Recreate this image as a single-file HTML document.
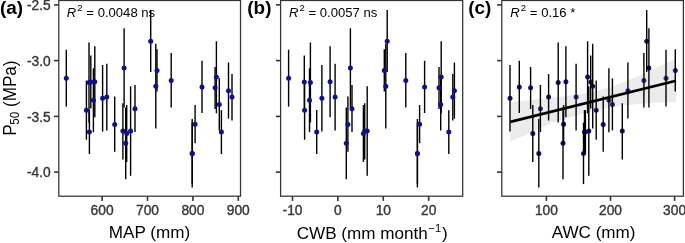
<!DOCTYPE html>
<html><head><meta charset="utf-8"><title>P50 vs climate</title>
<style>
html,body{margin:0;padding:0;background:#fff;}
svg{display:block;will-change:transform;font-family:"Liberation Sans",Arial,sans-serif;}
.tk{font-size:13.75px;fill:#383838;stroke:#383838;stroke-width:0.4px;}
.ax{font-size:17.1px;fill:#000;}
.tag{font-size:18.9px;font-weight:bold;fill:#000;}
.r2{font-size:13.1px;fill:#000;}
</style></head><body>
<svg width="685" height="243" viewBox="0 0 685 243">
<rect width="685" height="243" fill="#fff"/>
<line x1="66.3" x2="66.3" y1="49.7" y2="106.6" stroke="#000" stroke-width="1.4"/>
<line x1="86.4" x2="86.4" y1="80.6" y2="139.7" stroke="#000" stroke-width="1.4"/>
<line x1="89.0" x2="89.0" y1="42.5" y2="122.5" stroke="#000" stroke-width="1.4"/>
<line x1="89.4" x2="89.4" y1="110.1" y2="154.1" stroke="#000" stroke-width="1.4"/>
<line x1="90.8" x2="90.8" y1="55.5" y2="108.5" stroke="#000" stroke-width="1.4"/>
<line x1="93.4" x2="93.4" y1="68.3" y2="132.2" stroke="#000" stroke-width="1.4"/>
<line x1="94.8" x2="94.8" y1="46.2" y2="117.2" stroke="#000" stroke-width="1.4"/>
<line x1="102.6" x2="102.6" y1="65" y2="131.6" stroke="#000" stroke-width="1.4"/>
<line x1="106.8" x2="106.8" y1="63.8" y2="130.4" stroke="#000" stroke-width="1.4"/>
<line x1="114.7" x2="114.7" y1="96.6" y2="151.8" stroke="#000" stroke-width="1.4"/>
<line x1="124.1" x2="124.1" y1="28.3" y2="107.6" stroke="#000" stroke-width="1.4"/>
<line x1="122.9" x2="122.9" y1="103.3" y2="159.5" stroke="#000" stroke-width="1.4"/>
<line x1="126.7" x2="126.7" y1="105" y2="162" stroke="#000" stroke-width="1.4"/>
<line x1="125.7" x2="125.7" y1="107.5" y2="179.2" stroke="#000" stroke-width="1.4"/>
<line x1="130.6" x2="130.6" y1="86.3" y2="175.8" stroke="#000" stroke-width="1.4"/>
<line x1="135" x2="135" y1="85" y2="132" stroke="#000" stroke-width="1.4"/>
<line x1="150.7" x2="150.7" y1="9.9" y2="72.1" stroke="#000" stroke-width="1.4"/>
<line x1="155.8" x2="155.8" y1="43.8" y2="128.5" stroke="#000" stroke-width="1.4"/>
<line x1="157" x2="157" y1="49.2" y2="91.6" stroke="#000" stroke-width="1.4"/>
<line x1="171.2" x2="171.2" y1="53" y2="107.5" stroke="#000" stroke-width="1.4"/>
<line x1="192.2" x2="192.2" y1="119" y2="187.5" stroke="#000" stroke-width="1.4"/>
<line x1="195.1" x2="195.1" y1="105" y2="143.2" stroke="#000" stroke-width="1.4"/>
<line x1="202" x2="202" y1="60.8" y2="113.1" stroke="#000" stroke-width="1.4"/>
<line x1="215.1" x2="215.1" y1="67" y2="109" stroke="#000" stroke-width="1.4"/>
<line x1="216.4" x2="216.4" y1="41.3" y2="113.3" stroke="#000" stroke-width="1.4"/>
<line x1="219.3" x2="219.3" y1="78.3" y2="130.4" stroke="#000" stroke-width="1.4"/>
<line x1="221.4" x2="221.4" y1="110.2" y2="154.1" stroke="#000" stroke-width="1.4"/>
<line x1="228.5" x2="228.5" y1="62.5" y2="118.6" stroke="#000" stroke-width="1.4"/>
<line x1="232" x2="232" y1="74.1" y2="120.5" stroke="#000" stroke-width="1.4"/>
<line x1="192.2" x2="192.2" y1="122.7" y2="184.1" stroke="#000" stroke-width="1.4"/>
<circle cx="66.3" cy="78.3" r="2.5" fill="#10108c"/>
<circle cx="86.4" cy="110.3" r="2.5" fill="#10108c"/>
<circle cx="89.0" cy="82.5" r="2.5" fill="#10108c"/>
<circle cx="89.4" cy="132.1" r="2.5" fill="#10108c"/>
<circle cx="90.8" cy="82" r="2.5" fill="#10108c"/>
<circle cx="93.4" cy="100.3" r="2.5" fill="#10108c"/>
<circle cx="94.8" cy="81.7" r="2.5" fill="#10108c"/>
<circle cx="102.6" cy="98.3" r="2.5" fill="#10108c"/>
<circle cx="106.8" cy="97.1" r="2.5" fill="#10108c"/>
<circle cx="114.7" cy="124.5" r="2.5" fill="#10108c"/>
<circle cx="124.1" cy="68" r="2.5" fill="#10108c"/>
<circle cx="122.9" cy="131.1" r="2.5" fill="#10108c"/>
<circle cx="126.7" cy="133.6" r="2.5" fill="#10108c"/>
<circle cx="125.7" cy="143.3" r="2.5" fill="#10108c"/>
<circle cx="130.6" cy="131.1" r="2.5" fill="#10108c"/>
<circle cx="135" cy="108.8" r="2.5" fill="#10108c"/>
<circle cx="150.7" cy="41.2" r="2.5" fill="#10108c"/>
<circle cx="155.8" cy="86.3" r="2.5" fill="#10108c"/>
<circle cx="157" cy="70.4" r="2.5" fill="#10108c"/>
<circle cx="171.2" cy="80.6" r="2.5" fill="#10108c"/>
<circle cx="192.2" cy="153.6" r="2.5" fill="#10108c"/>
<circle cx="195.1" cy="124.2" r="2.5" fill="#10108c"/>
<circle cx="202" cy="87" r="2.5" fill="#10108c"/>
<circle cx="215.1" cy="87.8" r="2.5" fill="#10108c"/>
<circle cx="216.4" cy="77" r="2.5" fill="#10108c"/>
<circle cx="219.3" cy="104.4" r="2.5" fill="#10108c"/>
<circle cx="221.4" cy="132.1" r="2.5" fill="#10108c"/>
<circle cx="228.5" cy="90.8" r="2.5" fill="#10108c"/>
<circle cx="232" cy="97.1" r="2.5" fill="#10108c"/>
<circle cx="192.2" cy="153.4" r="2.5" fill="#10108c"/>
<line x1="288.6" x2="288.6" y1="49.7" y2="106.6" stroke="#000" stroke-width="1.4"/>
<line x1="304.6" x2="304.6" y1="80.6" y2="139.7" stroke="#000" stroke-width="1.4"/>
<line x1="310.4" x2="310.4" y1="42.5" y2="122.5" stroke="#000" stroke-width="1.4"/>
<line x1="316.7" x2="316.7" y1="110.1" y2="154.1" stroke="#000" stroke-width="1.4"/>
<line x1="304.3" x2="304.3" y1="55.5" y2="108.5" stroke="#000" stroke-width="1.4"/>
<line x1="309.5" x2="309.5" y1="68.3" y2="132.2" stroke="#000" stroke-width="1.4"/>
<line x1="330.1" x2="330.1" y1="46.2" y2="117.2" stroke="#000" stroke-width="1.4"/>
<line x1="321.9" x2="321.9" y1="65" y2="131.6" stroke="#000" stroke-width="1.4"/>
<line x1="335.1" x2="335.1" y1="63.8" y2="130.4" stroke="#000" stroke-width="1.4"/>
<line x1="347.9" x2="347.9" y1="96.6" y2="151.8" stroke="#000" stroke-width="1.4"/>
<line x1="350.4" x2="350.4" y1="28.3" y2="107.6" stroke="#000" stroke-width="1.4"/>
<line x1="364.7" x2="364.7" y1="103.3" y2="159.5" stroke="#000" stroke-width="1.4"/>
<line x1="363.4" x2="363.4" y1="105" y2="162" stroke="#000" stroke-width="1.4"/>
<line x1="346.3" x2="346.3" y1="107.5" y2="179.2" stroke="#000" stroke-width="1.4"/>
<line x1="367.2" x2="367.2" y1="86.3" y2="175.8" stroke="#000" stroke-width="1.4"/>
<line x1="352" x2="352" y1="85" y2="132" stroke="#000" stroke-width="1.4"/>
<line x1="387.2" x2="387.2" y1="9.9" y2="72.1" stroke="#000" stroke-width="1.4"/>
<line x1="385.8" x2="385.8" y1="43.8" y2="128.5" stroke="#000" stroke-width="1.4"/>
<line x1="384.3" x2="384.3" y1="49.2" y2="91.6" stroke="#000" stroke-width="1.4"/>
<line x1="405.8" x2="405.8" y1="53" y2="107.5" stroke="#000" stroke-width="1.4"/>
<line x1="417.4" x2="417.4" y1="119" y2="187.5" stroke="#000" stroke-width="1.4"/>
<line x1="419.6" x2="419.6" y1="105" y2="143.2" stroke="#000" stroke-width="1.4"/>
<line x1="424.6" x2="424.6" y1="60.8" y2="113.1" stroke="#000" stroke-width="1.4"/>
<line x1="439" x2="439" y1="67" y2="109" stroke="#000" stroke-width="1.4"/>
<line x1="441.2" x2="441.2" y1="41.3" y2="113.3" stroke="#000" stroke-width="1.4"/>
<line x1="440.7" x2="440.7" y1="78.3" y2="130.4" stroke="#000" stroke-width="1.4"/>
<line x1="448.8" x2="448.8" y1="110.2" y2="154.1" stroke="#000" stroke-width="1.4"/>
<line x1="454.4" x2="454.4" y1="62.5" y2="118.6" stroke="#000" stroke-width="1.4"/>
<line x1="452.8" x2="452.8" y1="74.1" y2="120.5" stroke="#000" stroke-width="1.4"/>
<line x1="417.4" x2="417.4" y1="122.7" y2="184.1" stroke="#000" stroke-width="1.4"/>
<circle cx="288.6" cy="78.3" r="2.5" fill="#10108c"/>
<circle cx="304.6" cy="110.3" r="2.5" fill="#10108c"/>
<circle cx="310.4" cy="82.5" r="2.5" fill="#10108c"/>
<circle cx="316.7" cy="132.1" r="2.5" fill="#10108c"/>
<circle cx="304.3" cy="82" r="2.5" fill="#10108c"/>
<circle cx="309.5" cy="100.3" r="2.5" fill="#10108c"/>
<circle cx="330.1" cy="81.7" r="2.5" fill="#10108c"/>
<circle cx="321.9" cy="98.3" r="2.5" fill="#10108c"/>
<circle cx="335.1" cy="97.1" r="2.5" fill="#10108c"/>
<circle cx="347.9" cy="124.5" r="2.5" fill="#10108c"/>
<circle cx="350.4" cy="68" r="2.5" fill="#10108c"/>
<circle cx="364.7" cy="131.1" r="2.5" fill="#10108c"/>
<circle cx="363.4" cy="133.6" r="2.5" fill="#10108c"/>
<circle cx="346.3" cy="143.3" r="2.5" fill="#10108c"/>
<circle cx="367.2" cy="131.1" r="2.5" fill="#10108c"/>
<circle cx="352" cy="108.8" r="2.5" fill="#10108c"/>
<circle cx="387.2" cy="41.2" r="2.5" fill="#10108c"/>
<circle cx="385.8" cy="86.3" r="2.5" fill="#10108c"/>
<circle cx="384.3" cy="70.4" r="2.5" fill="#10108c"/>
<circle cx="405.8" cy="80.6" r="2.5" fill="#10108c"/>
<circle cx="417.4" cy="153.6" r="2.5" fill="#10108c"/>
<circle cx="419.6" cy="124.2" r="2.5" fill="#10108c"/>
<circle cx="424.6" cy="87" r="2.5" fill="#10108c"/>
<circle cx="439" cy="87.8" r="2.5" fill="#10108c"/>
<circle cx="441.2" cy="77" r="2.5" fill="#10108c"/>
<circle cx="440.7" cy="104.4" r="2.5" fill="#10108c"/>
<circle cx="448.8" cy="132.1" r="2.5" fill="#10108c"/>
<circle cx="454.4" cy="90.8" r="2.5" fill="#10108c"/>
<circle cx="452.8" cy="97.1" r="2.5" fill="#10108c"/>
<circle cx="417.4" cy="153.4" r="2.5" fill="#10108c"/>
<circle cx="666" cy="78.3" r="2.5" fill="#10108c"/>
<circle cx="596.2" cy="110.3" r="2.5" fill="#10108c"/>
<circle cx="558.2" cy="82.5" r="2.5" fill="#10108c"/>
<circle cx="584.5" cy="132.1" r="2.5" fill="#10108c"/>
<circle cx="590.7" cy="82" r="2.5" fill="#10108c"/>
<circle cx="608.9" cy="100.3" r="2.5" fill="#10108c"/>
<circle cx="565.9" cy="81.7" r="2.5" fill="#10108c"/>
<circle cx="510" cy="98.3" r="2.5" fill="#10108c"/>
<circle cx="576.1" cy="97.1" r="2.5" fill="#10108c"/>
<circle cx="603.2" cy="124.5" r="2.5" fill="#10108c"/>
<circle cx="648.9" cy="68" r="2.5" fill="#10108c"/>
<circle cx="622.3" cy="131.1" r="2.5" fill="#10108c"/>
<circle cx="532.8" cy="133.6" r="2.5" fill="#10108c"/>
<circle cx="563" cy="143.3" r="2.5" fill="#10108c"/>
<circle cx="588.8" cy="131.1" r="2.5" fill="#10108c"/>
<circle cx="540.4" cy="108.8" r="2.5" fill="#10108c"/>
<circle cx="646.7" cy="41.2" r="2.5" fill="#10108c"/>
<circle cx="592.7" cy="86.3" r="2.5" fill="#10108c"/>
<circle cx="675.3" cy="70.4" r="2.5" fill="#10108c"/>
<circle cx="643.9" cy="80.6" r="2.5" fill="#10108c"/>
<circle cx="538.8" cy="153.6" r="2.5" fill="#10108c"/>
<circle cx="563.6" cy="124.2" r="2.5" fill="#10108c"/>
<circle cx="519.3" cy="87" r="2.5" fill="#10108c"/>
<circle cx="530.6" cy="87.8" r="2.5" fill="#10108c"/>
<circle cx="587.6" cy="77" r="2.5" fill="#10108c"/>
<circle cx="612.4" cy="104.4" r="2.5" fill="#10108c"/>
<circle cx="585.4" cy="132.1" r="2.5" fill="#10108c"/>
<circle cx="627.9" cy="90.8" r="2.5" fill="#10108c"/>
<circle cx="548.6" cy="97.1" r="2.5" fill="#10108c"/>
<circle cx="583.5" cy="153.4" r="2.5" fill="#10108c"/>
<polygon points="510.3,102.4 540,99 570,95.5 590,92.8 610,87.5 640,75.5 676,58.5 676,102 650,102.9 621,105.6 600,109.5 583,113.3 550,123.7 510.3,141.7" fill="#999" fill-opacity="0.2"/>
<line x1="666" x2="666" y1="49.7" y2="106.6" stroke="#000" stroke-width="1.4"/>
<line x1="596.2" x2="596.2" y1="80.6" y2="139.7" stroke="#000" stroke-width="1.4"/>
<line x1="558.2" x2="558.2" y1="42.5" y2="122.5" stroke="#000" stroke-width="1.4"/>
<line x1="584.5" x2="584.5" y1="110.1" y2="154.1" stroke="#000" stroke-width="1.4"/>
<line x1="590.7" x2="590.7" y1="55.5" y2="108.5" stroke="#000" stroke-width="1.4"/>
<line x1="608.9" x2="608.9" y1="68.3" y2="132.2" stroke="#000" stroke-width="1.4"/>
<line x1="565.9" x2="565.9" y1="46.2" y2="117.2" stroke="#000" stroke-width="1.4"/>
<line x1="510" x2="510" y1="65" y2="131.6" stroke="#000" stroke-width="1.4"/>
<line x1="576.1" x2="576.1" y1="63.8" y2="130.4" stroke="#000" stroke-width="1.4"/>
<line x1="603.2" x2="603.2" y1="96.6" y2="151.8" stroke="#000" stroke-width="1.4"/>
<line x1="648.9" x2="648.9" y1="28.3" y2="107.6" stroke="#000" stroke-width="1.4"/>
<line x1="622.3" x2="622.3" y1="103.3" y2="159.5" stroke="#000" stroke-width="1.4"/>
<line x1="532.8" x2="532.8" y1="105" y2="162" stroke="#000" stroke-width="1.4"/>
<line x1="563" x2="563" y1="107.5" y2="179.2" stroke="#000" stroke-width="1.4"/>
<line x1="588.8" x2="588.8" y1="86.3" y2="175.8" stroke="#000" stroke-width="1.4"/>
<line x1="540.4" x2="540.4" y1="85" y2="132" stroke="#000" stroke-width="1.4"/>
<line x1="646.7" x2="646.7" y1="9.9" y2="72.1" stroke="#000" stroke-width="1.4"/>
<line x1="592.7" x2="592.7" y1="43.8" y2="128.5" stroke="#000" stroke-width="1.4"/>
<line x1="675.3" x2="675.3" y1="49.2" y2="91.6" stroke="#000" stroke-width="1.4"/>
<line x1="643.9" x2="643.9" y1="53" y2="107.5" stroke="#000" stroke-width="1.4"/>
<line x1="538.8" x2="538.8" y1="119" y2="187.5" stroke="#000" stroke-width="1.4"/>
<line x1="563.6" x2="563.6" y1="105" y2="143.2" stroke="#000" stroke-width="1.4"/>
<line x1="519.3" x2="519.3" y1="60.8" y2="113.1" stroke="#000" stroke-width="1.4"/>
<line x1="530.6" x2="530.6" y1="67" y2="109" stroke="#000" stroke-width="1.4"/>
<line x1="587.6" x2="587.6" y1="41.3" y2="113.3" stroke="#000" stroke-width="1.4"/>
<line x1="612.4" x2="612.4" y1="78.3" y2="130.4" stroke="#000" stroke-width="1.4"/>
<line x1="585.4" x2="585.4" y1="110.2" y2="154.1" stroke="#000" stroke-width="1.4"/>
<line x1="627.9" x2="627.9" y1="62.5" y2="118.6" stroke="#000" stroke-width="1.4"/>
<line x1="548.6" x2="548.6" y1="74.1" y2="120.5" stroke="#000" stroke-width="1.4"/>
<line x1="583.5" x2="583.5" y1="122.7" y2="184.1" stroke="#000" stroke-width="1.4"/>
<line x1="510.3" y1="121.9" x2="676" y2="80.8" stroke="#000" stroke-width="2.7"/>
<rect x="58.8" y="0.5" width="181.7" height="195.7" fill="none" stroke="#333" stroke-width="1.25"/>
<line x1="54.099999999999994" x2="58.8" y1="4.9" y2="4.9" stroke="#333" stroke-width="1.6"/>
<line x1="54.099999999999994" x2="58.8" y1="60.6" y2="60.6" stroke="#333" stroke-width="1.6"/>
<line x1="54.099999999999994" x2="58.8" y1="116.4" y2="116.4" stroke="#333" stroke-width="1.6"/>
<line x1="54.099999999999994" x2="58.8" y1="172.1" y2="172.1" stroke="#333" stroke-width="1.6"/>
<line x1="102.1" x2="102.1" y1="196.2" y2="200.89999999999998" stroke="#333" stroke-width="1.6"/>
<text class="tk" x="102.1" y="214.9" text-anchor="middle">600</text>
<line x1="147.5" x2="147.5" y1="196.2" y2="200.89999999999998" stroke="#333" stroke-width="1.6"/>
<text class="tk" x="147.5" y="214.9" text-anchor="middle">700</text>
<line x1="192.9" x2="192.9" y1="196.2" y2="200.89999999999998" stroke="#333" stroke-width="1.6"/>
<text class="tk" x="192.9" y="214.9" text-anchor="middle">800</text>
<line x1="238.3" x2="238.3" y1="196.2" y2="200.89999999999998" stroke="#333" stroke-width="1.6"/>
<text class="tk" x="238.3" y="214.9" text-anchor="middle">900</text>
<rect x="280.6" y="0.5" width="182.1" height="195.7" fill="none" stroke="#333" stroke-width="1.25"/>
<line x1="275.90000000000003" x2="280.6" y1="4.9" y2="4.9" stroke="#333" stroke-width="1.6"/>
<line x1="275.90000000000003" x2="280.6" y1="60.6" y2="60.6" stroke="#333" stroke-width="1.6"/>
<line x1="275.90000000000003" x2="280.6" y1="116.4" y2="116.4" stroke="#333" stroke-width="1.6"/>
<line x1="275.90000000000003" x2="280.6" y1="172.1" y2="172.1" stroke="#333" stroke-width="1.6"/>
<line x1="292.5" x2="292.5" y1="196.2" y2="200.89999999999998" stroke="#333" stroke-width="1.6"/>
<text class="tk" x="292.5" y="214.9" text-anchor="middle">-10</text>
<line x1="337.9" x2="337.9" y1="196.2" y2="200.89999999999998" stroke="#333" stroke-width="1.6"/>
<text class="tk" x="337.9" y="214.9" text-anchor="middle">0</text>
<line x1="383.3" x2="383.3" y1="196.2" y2="200.89999999999998" stroke="#333" stroke-width="1.6"/>
<text class="tk" x="383.3" y="214.9" text-anchor="middle">10</text>
<line x1="428.7" x2="428.7" y1="196.2" y2="200.89999999999998" stroke="#333" stroke-width="1.6"/>
<text class="tk" x="428.7" y="214.9" text-anchor="middle">20</text>
<rect x="501.8" y="0.5" width="181.6" height="195.7" fill="none" stroke="#333" stroke-width="1.25"/>
<line x1="497.1" x2="501.8" y1="4.9" y2="4.9" stroke="#333" stroke-width="1.6"/>
<line x1="497.1" x2="501.8" y1="60.6" y2="60.6" stroke="#333" stroke-width="1.6"/>
<line x1="497.1" x2="501.8" y1="116.4" y2="116.4" stroke="#333" stroke-width="1.6"/>
<line x1="497.1" x2="501.8" y1="172.1" y2="172.1" stroke="#333" stroke-width="1.6"/>
<line x1="546.4" x2="546.4" y1="196.2" y2="200.89999999999998" stroke="#333" stroke-width="1.6"/>
<text class="tk" x="546.4" y="214.9" text-anchor="middle">100</text>
<line x1="610.5" x2="610.5" y1="196.2" y2="200.89999999999998" stroke="#333" stroke-width="1.6"/>
<text class="tk" x="610.5" y="214.9" text-anchor="middle">200</text>
<line x1="674.6" x2="674.6" y1="196.2" y2="200.89999999999998" stroke="#333" stroke-width="1.6"/>
<text class="tk" x="674.6" y="214.9" text-anchor="middle">300</text>
<text class="tk" x="50.7" y="10.100000000000001" text-anchor="end">-2.5</text>
<text class="tk" x="50.7" y="65.8" text-anchor="end">-3.0</text>
<text class="tk" x="50.7" y="121.60000000000001" text-anchor="end">-3.5</text>
<text class="tk" x="50.7" y="177.3" text-anchor="end">-4.0</text>
<text class="tag" x="0.0" y="14">(a)</text>
<text class="tag" x="247.3" y="14">(b)</text>
<text class="tag" x="468.3" y="14">(c)</text>
<text class="r2" x="66.8" y="17"><tspan font-style="italic">R</tspan><tspan font-size="9.6" dx="1.1" dy="-6.2">2</tspan><tspan dy="6.2"> = 0.0048 ns</tspan></text>
<text class="r2" x="288.9" y="17"><tspan font-style="italic">R</tspan><tspan font-size="9.6" dx="1.1" dy="-6.2">2</tspan><tspan dy="6.2"> = 0.0057 ns</tspan></text>
<text class="r2" x="510.3" y="17"><tspan font-style="italic">R</tspan><tspan font-size="9.6" dx="1.1" dy="-6.2">2</tspan><tspan dy="6.2"> = 0.16 *</tspan></text>
<text class="ax" transform="translate(16,98.2) rotate(-90) scale(1,1.07)" text-anchor="middle">P<tspan font-size="11.8" dx="-0.4" dy="3.0">50</tspan><tspan dy="-3.0"> (MPa)</tspan></text>
<text class="ax" x="149.5" y="237.9" text-anchor="middle">MAP (mm)</text>
<text class="ax" x="372.2" y="239.1" text-anchor="middle">CWB (mm month<tspan font-size="11.2" dx="0.6" dy="-7.6">−1</tspan><tspan dy="7.6" dx="0.9">)</tspan></text>
<text class="ax" x="593.6" y="237.9" text-anchor="middle">AWC (mm)</text>
</svg></body></html>
